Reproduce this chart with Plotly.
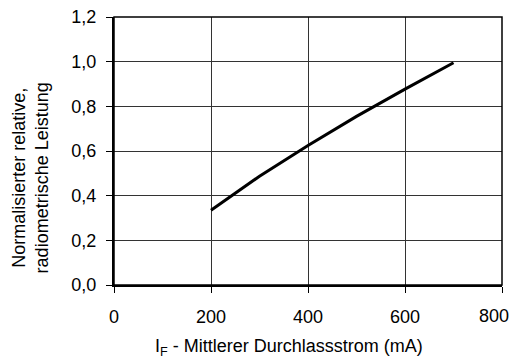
import plotly.graph_objects as go

current_mA = [200, 300, 400, 500, 600, 700]
rel_power = [0.335, 0.487, 0.625, 0.755, 0.877, 0.995]
x_ticks = [0, 200, 400, 600, 800]
x_tick_text = ["0", "200", "400", "600", "800"]
y_ticks = [0.0, 0.2, 0.4, 0.6, 0.8, 1.0, 1.2]

FONT = "Liberation Sans, Arial, sans-serif"

fig = go.Figure()
fig.add_trace(go.Scatter(x=current_mA, y=rel_power, mode="lines",
                         line=dict(color="black", width=3), showlegend=False,
                         hoverinfo="skip"))

fig.update_layout(
    width=512, height=362,
    margin=dict(l=114, r=10, t=17, b=77),
    paper_bgcolor="white", plot_bgcolor="white",
    separators=",.",
    font=dict(family=FONT, size=18, color="black"),
    xaxis=dict(range=[0, 800], tickvals=x_ticks,
               ticktext=x_tick_text[:-1] + [""],
               showgrid=True, gridcolor="#333", automargin=False,
               gridwidth=1, showline=True, linecolor="black", linewidth=2, mirror=False,
               ticks="outside", ticklen=6, tickcolor="black", tickwidth=1,
               ticklabelstandoff=8, ticklabeloverflow="allow", zeroline=False),
    yaxis=dict(range=[0, 1.2], tickvals=y_ticks, tickformat=".1f", showgrid=True,
               automargin=False,
               gridcolor="#333", gridwidth=1, showline=True, linecolor="black",
               linewidth=2, ticks="outside", ticklen=6, tickcolor="black", tickwidth=1,
               ticklabelstandoff=6, ticklabeloverflow="allow", zeroline=False),
)
fig.add_shape(type="rect", xref="paper", yref="paper", x0=0, y0=0, x1=1, y1=1,
              line=dict(color="black", width=1.5))
# last x tick label, pulled inside the page like in the reference
fig.add_annotation(text=x_tick_text[-1], x=x_ticks[-1], xref="x", xanchor="right",
                   xshift=9, y=0, yref="paper", yanchor="top", yshift=-19,
                   showarrow=False, font=dict(size=18, family=FONT))
fig.add_annotation(text="I<sub>F</sub> - Mittlerer Durchlassstrom (mA)",
                   xref="paper", yref="paper", x=0.45, y=-0.235, xanchor="center",
                   yanchor="middle", showarrow=False,
                   font=dict(size=18, family=FONT))
fig.add_annotation(text="Normalisierter relative,<br>radiometrische Leistung",
                   xref="paper", yref="paper", x=-0.215, y=0.40, xanchor="center",
                   yanchor="middle", textangle=-90, showarrow=False,
                   font=dict(size=18, family=FONT), align="center")
fig.write_html("out.html", config={"displayModeBar": False},
               post_script="document.body.style.margin='0';"
                           "document.body.style.overflow='hidden';")
